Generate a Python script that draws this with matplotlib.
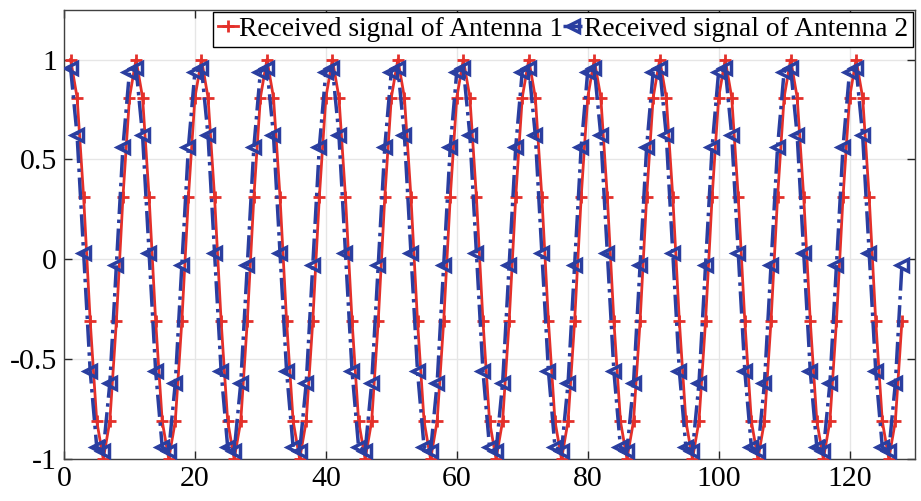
import matplotlib.pyplot as plt

# one period of each received signal (period = 10 samples)
period_ant1 = [1.0, 0.81, 0.31, -0.31, -0.81, -1.0, -0.81, -0.31, 0.31, 0.81]
period_ant2 = [0.96, 0.62, 0.03, -0.56, -0.94, -0.96, -0.62, -0.03, 0.56, 0.94]
n_samples = 128

x = list(range(1, n_samples + 1))
ant1 = (period_ant1 * 13)[:n_samples]
ant2 = (period_ant2 * 13)[:n_samples]

xticks = [0, 20, 40, 60, 80, 100, 120]
yticks = [-1, -0.5, 0, 0.5, 1]
ytick_labels = ['-1', '-0.5', '0', '0.5', '1']

plt.rcParams['font.family'] = ['Liberation Serif', 'DejaVu Serif']
plt.rcParams['font.size'] = 21.5

fig = plt.figure(figsize=(9.21, 5.01), dpi=100)
ax = fig.add_axes([0.0695, 0.0838, 0.924, 0.897])

red = '#e4302a'
blue = '#2a3ea0'

ax.plot(x, ant1, '-', color=red, lw=2, marker='+', ms=9, mew=2,
        label='Received signal of Antenna 1', zorder=3)
ax.plot(x, ant2, '-.', color=blue, lw=2.5, marker='<', ms=9, mew=2.5,
        mfc='none', label='Received signal of Antenna 2', zorder=4)

ax.set_xlim(0, 130)
ax.set_ylim(-1, 1.25)
ax.set_xticks(xticks)
ax.set_yticks(yticks)
ax.set_yticklabels(ytick_labels)
ax.grid(True, color='#e6e6e6', lw=1)
ax.set_axisbelow(True)
ax.tick_params(direction='in', top=True, right=True, length=6, width=1,
               colors='#262626', labelcolor='black', pad=5)
for s in ax.spines.values():
    s.set_color('#404040')
    s.set_linewidth(1)

leg = ax.legend(loc='upper right', ncol=2, fontsize=19.8, frameon=True,
                fancybox=False, edgecolor='black', handlelength=0.7,
                handletextpad=0.05, columnspacing=0.0, borderpad=0.18,
                borderaxespad=0.08, framealpha=1)
leg.get_frame().set_linewidth(1)

fig.savefig('out.png', dpi=100)
